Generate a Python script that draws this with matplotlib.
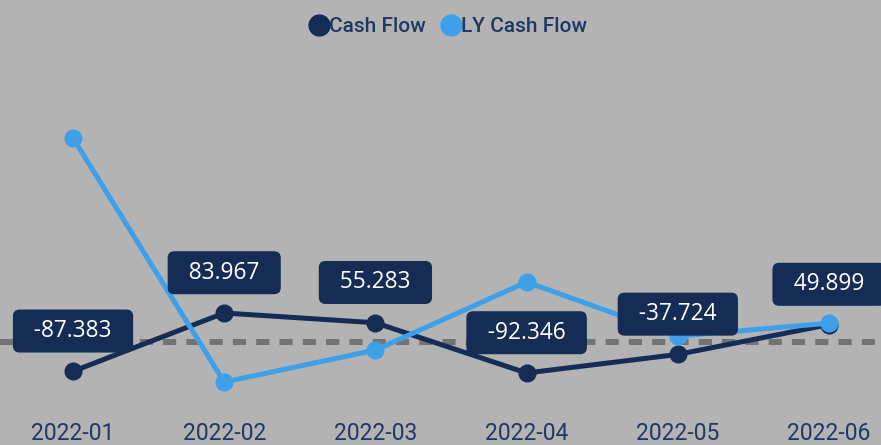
import matplotlib
matplotlib.use("Agg")
import matplotlib.pyplot as plt
from matplotlib.lines import Line2D

months = ["2022-01", "2022-02", "2022-03", "2022-04", "2022-05", "2022-06"]
cash_flow = [-87.383, 83.967, 55.283, -92.346, -37.724, 49.899]
ly_cash_flow = [598.0, -119.0, -25.0, 175.0, 16.0, 54.0]

bg = "#b3b3b3"
navy = "#152c55"
blue = "#3ea0e9"

fig = plt.figure(figsize=(8.81, 4.45), dpi=100, facecolor=bg)
ax = fig.add_axes([0, 0, 1, 1])
ax.set_facecolor(bg)
ax.axis("off")

x = list(range(len(months)))
ax.set_xlim(-0.483, 5.344)
ax.set_ylim(-304, 1004)

# zero line
ax.axhline(0, color="#737373", lw=4.3, ls=(0, (2.2, 1.7)), zorder=1)

ax.plot(x, cash_flow, color=navy, lw=3.6, marker="o", ms=12, zorder=3)
ax.plot(x, ly_cash_flow, color=blue, lw=3.6, marker="o", ms=12, zorder=4)

for xi, v in zip(x, cash_flow):
    ax.annotate("  " + f"{v:.3f}" + "  ", (xi, v), xytext=(0, 29),
                textcoords="offset points", ha="center", va="center",
                color="white", fontsize=16.3, family="Open Sans", zorder=6,
                bbox=dict(boxstyle="round,pad=0.42,rounding_size=0.3",
                          fc=navy, ec="none"))

for xi, m in zip(x, months):
    ax.text(xi, -269, m, ha="center", va="center", color="#1f3864",
            fontsize=16.5, family="Roboto", zorder=2)

handles = [Line2D([], [], ls="none", marker="o", ms=15, color=navy),
           Line2D([], [], ls="none", marker="o", ms=15, color=blue)]
fig.legend(handles, ["Cash Flow", "LY Cash Flow"], loc="center",
           bbox_to_anchor=(0.507, 0.94), ncol=2, frameon=False,
           handletextpad=-0.1, columnspacing=0.6, handlelength=1.2,
           prop=dict(family="Roboto", size=15, weight="medium"),
           labelcolor="#1f3864")

fig.savefig("out.png", dpi=100, facecolor=bg)
